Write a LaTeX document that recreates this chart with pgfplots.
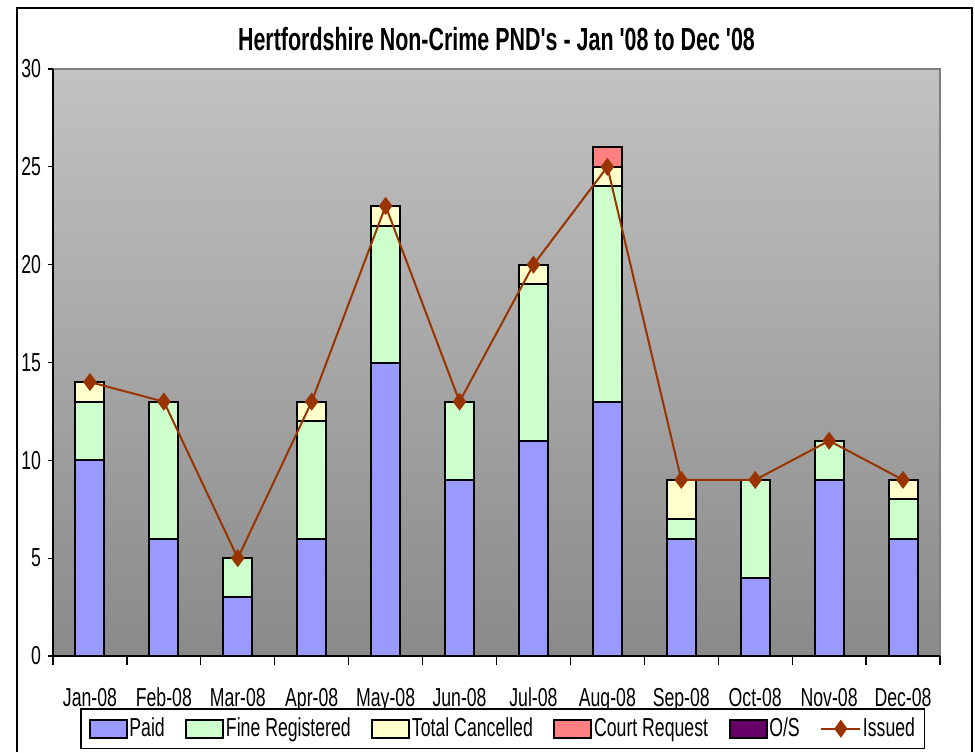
\documentclass[border=0pt]{standalone}
\usepackage{fontspec}
\usepackage{pgfplots}
\pgfplotsset{compat=1.18}
\newfontfamily\chartfont{Liberation Sans}[FakeStretch=0.68]
\newfontfamily\titlefont{Liberation Sans}[FakeStretch=0.67]

\definecolor{paid}{HTML}{9999FF}
\definecolor{fine}{HTML}{CCFFCC}
\definecolor{cancel}{HTML}{FFFFCC}
\definecolor{court}{HTML}{FF8080}
\definecolor{os}{HTML}{660066}
\definecolor{issued}{HTML}{993300}
\definecolor{bgtop}{HTML}{C2C2C2}
\definecolor{bgbot}{HTML}{8A8A8A}

\begin{document}
\begin{tikzpicture}
\path[use as bounding box] (-26.5pt,-48pt) rectangle (461pt,328pt);
\draw[black, line width=1pt] (-18pt,-48pt) -- (-18pt,324pt) -- (459.5pt,324pt) -- (459.5pt,-48pt);

\begin{axis}[
    at={(0,0)}, anchor=south west,
    scale only axis,
    width=443.5pt, height=293.5pt,
    ybar stacked,
    bar width=14.5pt,
    xmin=-0.5, xmax=11.5,
    ymin=0, ymax=30,
    ytick={0,5,...,30},
    xtick={0,...,11},
    xticklabels={Jan-08,Feb-08,Mar-08,Apr-08,May-08,Jun-08,Jul-08,Aug-08,Sep-08,Oct-08,Nov-08,Dec-08},
    minor xtick={-0.5,0.5,...,11.5},
    major x tick style={draw=none},
    tick align=outside,
    major tick length=2.5pt,
    minor tick length=4.5pt,
    tick style={black, line width=0.6pt},
    axis x line*=bottom,
    axis y line*=left,
    axis line style={black, line width=0.6pt},
    axis background/.style={top color=bgtop, bottom color=bgbot, draw=gray, line width=1pt},
    ticklabel style={font=\chartfont\fontsize{13}{15}\selectfont},
    /pgf/number format/assume math mode=true,
    xticklabel style={anchor=base, yshift=-22.5pt},
    title={Hertfordshire Non-Crime PND's - Jan '08 to Dec '08},
    title style={font=\titlefont\bfseries\fontsize{16}{18}\selectfont, at={(0.5,1)}, anchor=base, yshift=3.5pt},
    legend columns=-1,
    legend style={at={(0.507,-0.0886)}, anchor=north, draw=black, line width=0.8pt,
        font=\chartfont\fontsize{13}{15}\selectfont,
        inner ysep=2.5pt, inner xsep=4pt,
        nodes={inner xsep=0.8pt},
        /tikz/every even column/.append style={column sep=9.5pt}},
    legend image code/.code={\draw[#1, line width=1pt] (0pt,-4.5pt) rectangle (18.5pt,4.5pt);},
    every axis plot/.append style={draw=black, line width=1pt},
]
\addplot[fill=paid] coordinates {(0,10) (1,6) (2,3) (3,6) (4,15) (5,9) (6,11) (7,13) (8,6) (9,4) (10,9) (11,6)};
\addplot[fill=fine] coordinates {(0,3) (1,7) (2,2) (3,6) (4,7) (5,4) (6,8) (7,11) (8,1) (9,5) (10,2) (11,2)};
\addplot[fill=cancel] coordinates {(0,1) (1,0) (2,0) (3,1) (4,1) (5,0) (6,1) (7,1) (8,2) (9,0) (10,0) (11,1)};
\addplot[fill=court] coordinates {(0,0) (1,0) (2,0) (3,0) (4,0) (5,0) (6,0) (7,1) (8,0) (9,0) (10,0) (11,0)};
\addplot[fill=os] coordinates {(0,0) (1,0) (2,0) (3,0) (4,0) (5,0) (6,0) (7,0) (8,0) (9,0) (10,0) (11,0)};
\addlegendimage{legend image code/.code={
    \draw[issued, line width=1pt] (0pt,0pt) -- (19.5pt,0pt);
    \fill[issued] (9.75pt,3.7pt) -- (12.4pt,0pt) -- (9.75pt,-3.7pt) -- (7.1pt,0pt) -- cycle;}}
\legend{Paid, Fine Registered, Total Cancelled, Court Request, O/S, Issued}
\end{axis}

\begin{axis}[
    at={(0,0)}, anchor=south west,
    scale only axis,
    width=443.5pt, height=293.5pt,
    xmin=-0.5, xmax=11.5,
    ymin=0, ymax=30,
    hide axis,
]
\addplot[issued, line width=1pt, mark=diamond*, mark size=3.7pt, mark options={fill=issued}]
    coordinates {(0,14) (1,13) (2,5) (3,13) (4,23) (5,13) (6,20) (7,25) (8,9) (9,9) (10,11) (11,9)};
\end{axis}
\end{tikzpicture}
\end{document}
